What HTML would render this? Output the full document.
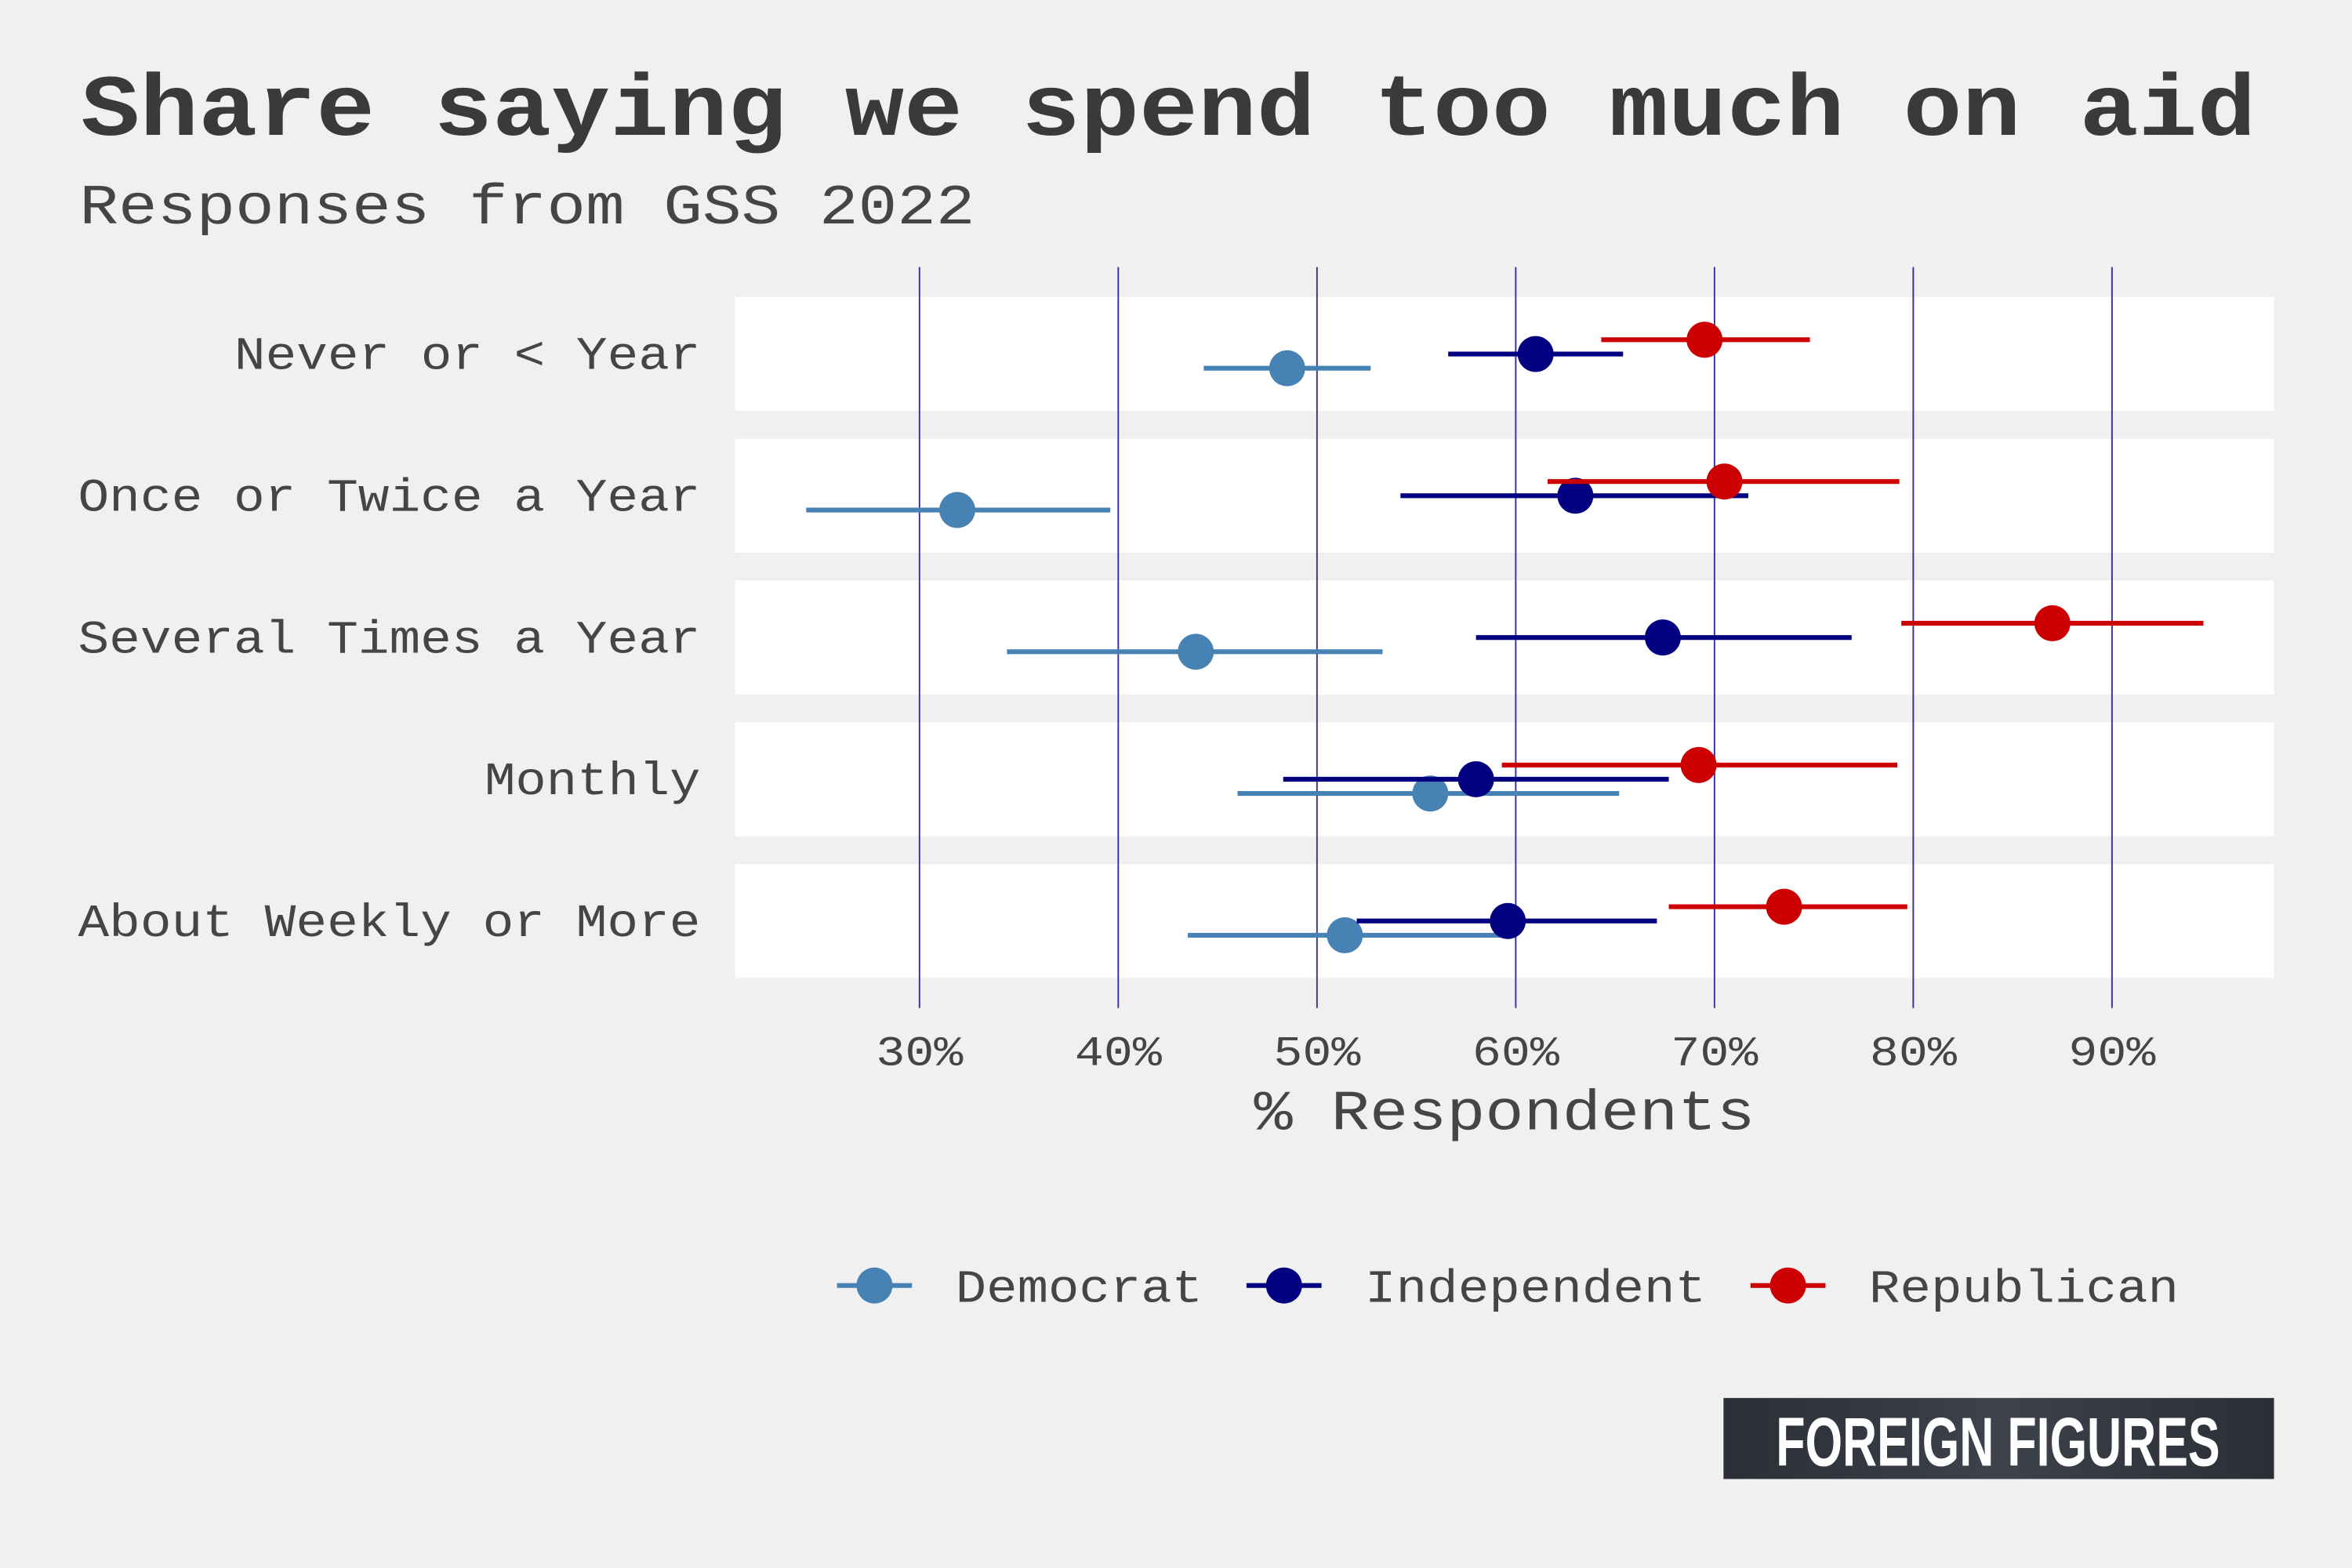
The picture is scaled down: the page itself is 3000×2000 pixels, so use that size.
<!DOCTYPE html>
<html><head><meta charset="utf-8"><style>
html,body{margin:0;padding:0;background:#f0f0f0;}
svg{display:block;}
text{font-family:"Liberation Mono",monospace;fill:#3a3a3a;}
</style></head><body>
<svg id="chart" width="3000" height="2000" viewBox="0 0 1568 1045.33" xmlns="http://www.w3.org/2000/svg">
<rect x="0" y="0" width="1568" height="1046" fill="#f0f0f0"/>
<text x="54" y="90" font-size="58" font-weight="bold" fill="#3a3a3a" textLength="1450" lengthAdjust="spacingAndGlyphs">Share saying we spend too much on aid</text>
<text x="53" y="149" font-size="38" textLength="597" lengthAdjust="spacingAndGlyphs" style="fill:#454545">Responses from GSS 2022</text>
<g id="bands"></g>
<g id="grid"></g>
<g id="marks"></g>
<g id="ylabels"></g>
<g id="xticks"></g>
<text x="836" y="753" font-size="38" textLength="334" lengthAdjust="spacingAndGlyphs" style="fill:#454545">% Respondents</text>
<g id="legend"></g>
<defs><linearGradient id="lg" x1="0" x2="1"><stop offset="0" stop-color="#2a2e35"/><stop offset="0.5" stop-color="#3d424b"/><stop offset="1" stop-color="#2a2e35"/></linearGradient></defs>
<rect x="1149" y="932" width="367" height="54" fill="url(#lg)"/>
<text x="1332" y="977" font-size="46" font-weight="bold" text-anchor="middle" textLength="296" lengthAdjust="spacingAndGlyphs" style="font-family:'Liberation Sans',sans-serif;fill:#ffffff">FOREIGN FIGURES</text>
</svg>
<script>
const categories=["Never or < Year","Once or Twice a Year","Several Times a Year","Monthly","About Weekly or More"];
const series=["Democrat","Independent","Republican"];
const demVals=[48.5,31.9,43.9,55.7,51.4];
const demLo=[44.3,24.3,34.4,46.0,43.5];
const demHi=[52.7,39.6,53.3,65.2,59.7];
const indVals=[61.0,63.0,67.4,58.0,59.6];
const indLo=[56.6,54.2,58.0,48.3,52.0];
const indHi=[65.4,71.7,76.9,67.7,67.1];
const repVals=[69.5,70.5,87.0,69.2,73.5];
const repLo=[64.3,61.6,79.4,59.3,67.7];
const repHi=[74.8,79.3,94.6,79.2,79.7];
const ticks=[30,40,50,60,70,80,90];
const tickLabels=["30%","40%","50%","60%","70%","80%","90%"];

const NS="http://www.w3.org/2000/svg";
const colors=["#4682b4","#000080","#cc0000"];
const dodge=[9.5,0,-9.5];
const CW=20.85;
function x(v){return 613+(v-30)*13.25;}
function yc(i){return 236+i*94.5;}
function mk(tag,attrs,parent){const e=document.createElementNS(NS,tag);for(const k in attrs)e.setAttribute(k,attrs[k]);parent.appendChild(e);return e;}
const bands=document.getElementById('bands'),grid=document.getElementById('grid'),marks=document.getElementById('marks'),yl=document.getElementById('ylabels'),xt=document.getElementById('xticks'),leg=document.getElementById('legend');
categories.forEach((c,i)=>{
  const b=mk('rect',{x:490,y:yc(i)-38,width:1026,height:76,fill:'#ffffff'},bands);
  
  
  const w=c.length*CW;
  const t=mk('text',{x:469-w,y:yc(i)+10,'font-size':31,textLength:w-2,lengthAdjust:'spacingAndGlyphs',style:'fill:#454545'},yl);
  t.textContent=c;
  
  
});
ticks.forEach((v,i)=>{
  const l=mk('line',{x1:x(v),x2:x(v),y1:178,y2:672,stroke:'#3030a8','stroke-width':1},grid);
  
  
  const t=mk('text',{x:x(v)-29,y:710,'font-size':28,textLength:58,lengthAdjust:'spacingAndGlyphs',style:'fill:#454545'},xt);
  t.textContent=tickLabels[i];
  
  
});
const all=[[demVals,demLo,demHi],[indVals,indLo,indHi],[repVals,repLo,repHi]];
all.forEach((s,si)=>{
  s[0].forEach((v,i)=>{
    const y=yc(i)+dodge[si];
    const l=mk('line',{x1:x(s[1][i]),x2:x(s[2][i]),y1:y,y2:y,stroke:colors[si],'stroke-width':3.2},marks);
    
    
    const p=mk('circle',{cx:x(v),cy:y,r:12,fill:colors[si]},marks);
    
    
  });
});
const lx=[583,856,1192];
series.forEach((s,i)=>{
  const l=mk('line',{x1:lx[i]-25,x2:lx[i]+25,y1:857,y2:857,stroke:colors[i],'stroke-width':3.2},leg);
  
  
  const c=mk('circle',{cx:lx[i],cy:857,r:12,fill:colors[i]},leg);
  
  
  const t=mk('text',{x:lx[i]+54,y:868,'font-size':31,textLength:s.length*CW-2,lengthAdjust:'spacingAndGlyphs',style:'fill:#454545'},leg);
  t.textContent=s;
  
  
});
</script>
</body></html>
